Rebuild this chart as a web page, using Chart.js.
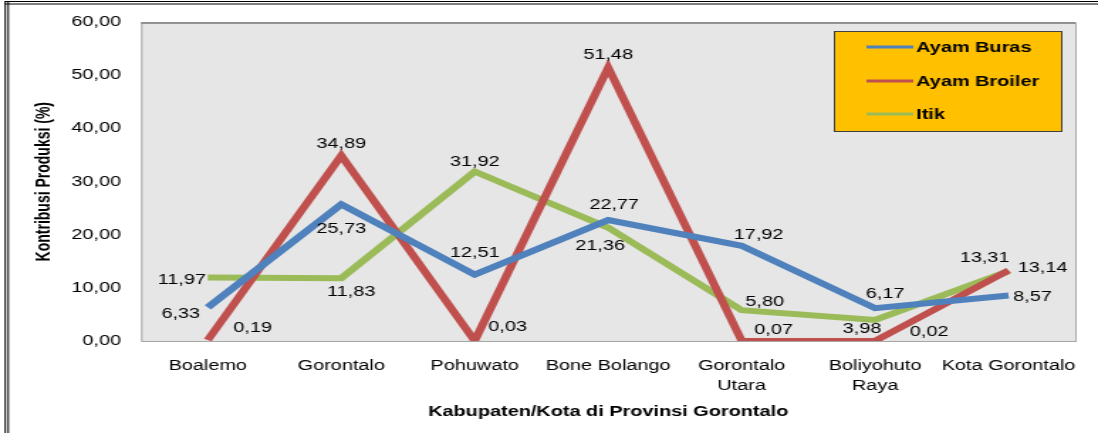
<!DOCTYPE html>
<html lang="id">
<head>
    <meta charset="UTF-8">
    <title>Kontribusi Produksi Unggas</title>
    <script src="https://cdnjs.cloudflare.com/ajax/libs/Chart.js/4.4.1/chart.umd.min.js"></script>
    <style>
        body {
            margin: 0;
            background: #fff;
            overflow: hidden;
        }
        /* the original picture is stretched sideways, so the chart is too */
        #wrap {
            width: 773px;
            height: 433px;
            transform: scaleX(1.4204);
            transform-origin: 0 0;
        }
    </style>
</head>
<body>
    <div id="wrap">
        <canvas id="poultryChart"></canvas>
    </div>

    <script>
        const regions = ['Boalemo', 'Gorontalo', 'Pohuwato', 'Bone Bolango',
            ['Gorontalo', 'Utara'], ['Boliyohuto', 'Raya'], 'Kota Gorontalo'];
        const seriesNames = ['Ayam Buras', 'Ayam Broiler', 'Itik'];
        const ayamBuras = [6.33, 25.73, 12.51, 22.77, 17.92, 6.17, 8.57];
        const ayamBroiler = [0.19, 34.89, 0.03, 51.48, 0.07, 0.02, 13.31];
        const itik = [11.97, 11.83, 31.92, 21.36, 5.80, 3.98, 13.14];
        const yTicks = [0, 10, 20, 30, 40, 50, 60];

        const STRETCH = 1098 / 773;
        const FONT = '"Liberation Sans", Arial, sans-serif';
        const colors = ['#4F81BD', '#C0504D', '#9BBB59'];

        // where each value label sits relative to its point (screen px)
        const labelOffsets = [
            [[-27, 7], [0, 25], [0, -21], [6, -15], [17, -11], [10, -14], [24, 2]],
            [[45, -12], [0, -12], [33, -14], [0, -13], [32, -10], [54, -9], [-24, -12]],
            [[-26, 3], [10, 14], [0, -9], [-8, 19], [23, -8], [-13, 9], [34, -3]]
        ];

        const fmt = v => v.toFixed(2).replace('.', ',');

        const framePlugin = {
            id: 'frame',
            beforeDraw(chart) {
                const { ctx, chartArea: a, width, height } = chart;
                ctx.save();
                ctx.fillStyle = '#fff';
                ctx.fillRect(0, 0, width, height);
                // double outer frame, top and left
                ctx.strokeStyle = '#000';
                ctx.lineWidth = 1;
                [1.5, 4].forEach(y => {
                    ctx.beginPath();
                    ctx.moveTo(3, y);
                    ctx.lineTo(width, y);
                    ctx.stroke();
                });
                [3.7, 5.8].forEach(x => {
                    ctx.beginPath();
                    ctx.moveTo(x, 1);
                    ctx.lineTo(x, height);
                    ctx.stroke();
                });
                // plot area
                ctx.fillStyle = '#E6E6E6';
                ctx.fillRect(a.left, a.top, a.right - a.left, a.bottom - a.top);
                ctx.strokeStyle = '#A6A6A6';
                ctx.strokeRect(a.left + 0.5, a.top + 0.5, a.right - a.left, a.bottom - a.top);
                ctx.strokeStyle = '#7F7F7F';
                ctx.lineWidth = 1.5;
                ctx.beginPath();
                ctx.moveTo(a.left, a.top + 0.5);
                ctx.lineTo(a.right, a.top + 0.5);
                ctx.stroke();
                ctx.restore();
            },
            afterDatasetsDraw(chart) {
                const { ctx } = chart;
                ctx.save();
                ctx.font = '14px ' + FONT;
                ctx.fillStyle = '#000';
                ctx.textAlign = 'center';
                ctx.textBaseline = 'middle';
                chart.data.datasets.forEach((ds, i) => {
                    chart.getDatasetMeta(i).data.forEach((pt, j) => {
                        const [dx, dy] = labelOffsets[i][j];
                        ctx.fillText(fmt(ds.data[j]), pt.x + dx / STRETCH, pt.y + dy);
                    });
                });

                // legend box
                const lx = 587, ly = 31, lw = 160, lh = 100;
                ctx.fillStyle = '#FFC000';
                ctx.fillRect(lx, ly, lw, lh);
                ctx.strokeStyle = '#404040';
                ctx.lineWidth = 1;
                ctx.strokeRect(lx + 0.5, ly + 0.5, lw, lh);
                ctx.font = 'bold 14px ' + FONT;
                ctx.textAlign = 'left';
                [47, 81, 114].forEach((y, i) => {
                    ctx.strokeStyle = colors[i];
                    ctx.lineWidth = 3;
                    ctx.beginPath();
                    ctx.moveTo(610, y);
                    ctx.lineTo(643, y);
                    ctx.stroke();
                    ctx.fillStyle = '#000';
                    ctx.fillText(seriesNames[i], 645, y + 1);
                });
                ctx.restore();
            }
        };

        new Chart(document.getElementById('poultryChart'), {
            type: 'line',
            data: {
                labels: regions,
                datasets: [ayamBuras, ayamBroiler, itik].map((d, i) => ({
                    label: seriesNames[i],
                    data: d,
                    borderColor: colors[i],
                    backgroundColor: colors[i],
                    borderWidth: 6,
                    pointRadius: 0,
                    tension: 0
                }))
            },
            options: {
                responsive: true,
                maintainAspectRatio: false,
                animation: false,
                devicePixelRatio: 1,
                layout: { padding: { top: 22, right: 12, bottom: 0, left: 0 } },
                plugins: {
                    legend: { display: false },
                    tooltip: { enabled: false }
                },
                scales: {
                    x: {
                        offset: true,
                        grid: { display: false, drawTicks: false },
                        border: { display: false },
                        ticks: {
                            color: '#000',
                            padding: 15,
                            maxRotation: 0,
                            autoSkip: false,
                            font: { family: FONT, size: 14, lineHeight: 1.45 }
                        },
                        title: {
                            display: true,
                            text: 'Kabupaten/Kota di Provinsi Gorontalo',
                            color: '#000',
                            padding: { top: 0, bottom: 12 },
                            font: { family: FONT, size: 14, weight: 'bold' }
                        },
                        afterFit(scale) { scale.height = 92; }
                    },
                    y: {
                        min: 0,
                        max: 60,
                        afterBuildTicks(scale) {
                            scale.ticks = yTicks.map(v => ({ value: v }));
                        },
                        grid: { display: false, drawTicks: false },
                        border: { display: false },
                        ticks: {
                            color: '#000',
                            padding: 14,
                            callback: v => fmt(v),
                            font: { family: FONT, size: 14 }
                        },
                        title: {
                            display: true,
                            text: 'Kontribusi Produksi (%)',
                            color: '#000',
                            padding: { top: 23, bottom: 0 },
                            font: { family: FONT, size: 14, weight: 'bold' }
                        },
                        afterFit(scale) { scale.width = 99.3; }
                    }
                }
            },
            plugins: [framePlugin]
        });
    </script>
</body>
</html>
